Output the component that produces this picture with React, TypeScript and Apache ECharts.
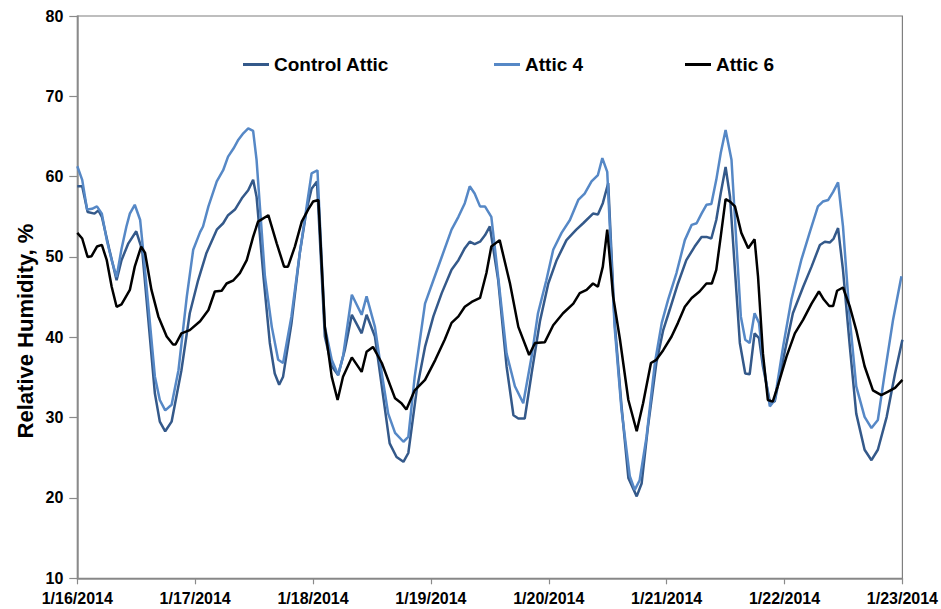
import React, { useEffect, useRef } from "react";
import * as echarts from "echarts";

// x = hours since 1/16/2014 00:00, y = relative humidity (%)
const dayLabels = ["1/16/2014", "1/17/2014", "1/18/2014", "1/19/2014", "1/20/2014", "1/21/2014", "1/22/2014", "1/23/2014"];
const seriesNames = ["Control Attic", "Attic 4", "Attic 6"];

const controlAttic: [number, number][] = [
  [0, 58.8], [1, 58.8], [2.1, 55.6], [3.5, 55.4], [4.3, 55.8], [5, 55.0], [6.5, 51.0], [8, 47.1], [9, 49.6], [10.4, 51.7],
  [12, 53.2], [13.2, 50.9], [15.8, 33.0], [16.8, 29.5], [17.9, 28.3], [19.2, 29.5], [21.2, 35.9], [22.9, 43.0], [24.6, 47.1],
  [26.3, 50.5], [28.4, 53.4], [29.7, 54.2], [30.7, 55.2], [32.1, 55.9], [33.5, 57.3], [34.8, 58.3], [35.8, 59.6], [36.5, 57.5],
  [37.9, 47.6], [39.2, 39.3], [40.2, 35.5], [41.1, 34.1], [41.9, 35.1], [43.6, 41.7], [45.3, 50.5], [46.7, 55.9], [47.7, 58.5],
  [48.8, 59.4], [50.4, 40.1], [51.8, 36.4], [53.1, 35.3], [54.5, 38.5], [55.9, 42.8], [57.9, 40.5], [58.9, 42.8], [60.6, 40.1],
  [62, 33.9], [63.6, 26.8], [65, 25.1], [66.4, 24.5], [67.4, 25.6], [69.1, 33.4], [70.8, 38.8], [72.5, 42.6], [74.2, 45.5],
  [76.2, 48.4], [77.6, 49.6], [78.9, 51.1], [79.9, 51.9], [80.9, 51.6], [82, 51.9], [83, 52.7], [84, 53.8], [85.7, 47.1],
  [87.4, 36.4], [88.8, 30.3], [89.8, 29.9], [91.1, 29.9], [92.5, 35.5], [94.2, 42.0], [95.9, 46.7], [97.6, 49.6], [99.6, 52.1],
  [101.6, 53.4], [103, 54.2], [105, 55.4], [106, 55.3], [107, 56.7], [108.1, 59.2], [109.4, 42.0], [110.8, 31.5], [112.2, 22.5],
  [113.9, 20.2], [114.9, 21.8], [116.2, 28.9], [117.9, 36.8], [119.3, 40.9], [120.6, 43.4], [122.3, 46.7], [124, 49.6],
  [125.7, 51.3], [127.1, 52.5], [128.1, 52.5], [129.1, 52.3], [130.1, 54.6], [131, 57.9], [132, 61.2], [132.9, 57.5],
  [133.9, 48.4], [134.9, 39.3], [136, 35.5], [136.9, 35.4], [137.9, 40.5], [138.8, 39.9], [139.6, 36.4], [141, 32.0], [142, 32.0],
  [143.7, 37.2], [145.7, 43.0], [147.8, 46.3], [149.5, 48.8], [151.2, 51.5], [152.2, 51.9], [153.2, 51.8], [154, 52.3],
  [154.9, 53.6], [155.9, 48.4], [157.3, 38.8], [158.6, 30.5], [160.3, 26.0], [161.7, 24.7], [163, 26.0], [164.8, 30.1],
  [166.5, 35.5], [168, 39.7],
];

const attic4: [number, number][] = [
  [0, 61.3], [1, 59.6], [2, 55.9], [3, 56.0], [4, 56.3], [5, 55.4], [6, 52.1], [7, 49.6], [8, 47.5], [9, 51.0], [10, 53.8],
  [10.7, 55.4], [11.7, 56.5], [12.8, 54.6], [13.4, 50.9], [15.8, 35.1], [16.8, 32.2], [17.9, 30.9], [19.2, 31.6], [20.6, 35.9],
  [22.3, 45.1], [23.6, 50.9], [25, 53.1], [25.6, 53.8], [26.7, 56.3], [28.4, 59.4], [29.7, 60.8], [30.7, 62.5], [31.8, 63.5],
  [32.8, 64.6], [33.8, 65.4], [34.8, 66.0], [35.8, 65.7], [36.5, 62.1], [38.2, 47.6], [39.6, 41.3], [40.9, 37.2], [41.9, 36.8],
  [43.6, 42.6], [45.3, 50.5], [46.7, 56.3], [47.7, 60.4], [48.9, 60.8], [50.4, 41.3], [51.8, 37.2], [53.1, 35.3], [54.1, 37.6],
  [55.9, 45.3], [57.9, 42.8], [58.9, 45.1], [60.6, 41.3], [62, 35.5], [63.3, 30.5], [64.7, 28.1], [66.4, 27.0], [67.4, 27.6],
  [68.7, 35.1], [70.8, 44.2], [72.5, 47.1], [74.2, 50.0], [76.2, 53.4], [77.6, 55.0], [78.9, 56.7], [79.9, 58.8], [80.9, 57.9],
  [82, 56.3], [83, 56.3], [84.3, 55.0], [85.7, 47.5], [87.4, 38.0], [89.1, 33.9], [90.8, 31.8], [92.5, 37.6], [93.8, 43.0],
  [95.5, 47.1], [96.9, 50.9], [98.6, 53.0], [100.3, 54.6], [102, 57.1], [103.3, 57.9], [104.7, 59.4], [106, 60.2], [106.9, 62.3],
  [107.9, 60.6], [109.4, 41.3], [110.8, 31.0], [112.5, 22.7], [113.5, 21.0], [114.5, 22.2], [115.9, 27.6], [117.6, 36.8],
  [119, 41.8], [120.3, 44.7], [122, 48.0], [123.7, 52.1], [125.1, 54.0], [126.1, 54.2], [127.1, 55.4], [128.1, 56.5],
  [129.1, 56.6], [130.1, 59.6], [131, 62.9], [132, 65.8], [133.2, 62.1], [134.2, 51.7], [135.1, 42.6], [136, 39.7],
  [136.9, 39.3], [137.9, 43.0], [138.8, 41.8], [139.6, 37.2], [141, 31.4], [142, 32.2], [143.7, 38.8], [145.4, 44.7],
  [147.4, 49.6], [149.1, 53.0], [150.8, 56.3], [151.8, 56.9], [152.9, 57.1], [153.9, 58.1], [154.9, 59.3], [155.9, 53.8],
  [157.3, 42.2], [158.6, 33.9], [160.3, 30.1], [161.7, 28.7], [163, 29.7], [164.3, 35.1], [166.1, 42.2], [167.8, 47.6],
];

const attic6: [number, number][] = [
  [0, 53.0], [1, 52.3], [2.1, 50.0], [2.9, 50.1], [4, 51.3], [5, 51.5], [6, 49.6], [7, 46.3], [8, 43.8], [9, 44.1], [10.7, 45.9],
  [11.7, 48.8], [13, 51.3], [13.8, 50.5], [15.1, 45.9], [16.5, 42.6], [18.2, 40.1], [19.5, 39.1], [20, 39.1], [21.2, 40.5],
  [22.9, 40.9], [25, 42.0], [26.7, 43.4], [28, 45.7], [29.4, 45.8], [30.4, 46.7], [31.8, 47.1], [33.1, 48.0], [34.5, 49.6],
  [35.8, 52.5], [36.8, 54.4], [38.9, 55.2], [40.6, 51.7], [42.1, 48.8], [42.9, 48.8], [44.3, 51.3], [45.7, 54.4], [47, 55.9],
  [48, 56.9], [49.1, 57.1], [50.4, 41.3], [51.8, 35.1], [53, 32.2], [54.1, 35.1], [55.9, 37.5], [57.9, 35.7], [58.9, 38.2],
  [60.2, 38.8], [62, 36.8], [64.7, 32.4], [66, 31.8], [67, 31.0], [68.7, 33.4], [70.8, 34.7], [72.9, 37.2], [74.8, 39.7],
  [76.2, 41.8], [77.6, 42.6], [78.9, 43.8], [80.3, 44.4], [82, 44.9], [83.3, 48.0], [84.3, 51.3], [86, 52.1], [88.1, 46.7],
  [89.8, 41.3], [92, 37.8], [93.2, 39.3], [95.2, 39.4], [96.9, 41.5], [98.9, 43.0], [101, 44.2], [102.3, 45.5], [103.7, 45.9],
  [105, 46.7], [106, 46.3], [107, 48.8], [107.9, 53.4], [109.1, 45.1], [110.5, 39.7], [112.2, 32.2], [113.9, 28.3], [115.2, 31.8],
  [116.8, 36.8], [117.9, 37.2], [119.3, 38.4], [121, 40.1], [122.3, 41.8], [123.7, 43.8], [125.1, 44.9], [126.7, 45.7],
  [128.1, 46.7], [129.2, 46.7], [130.1, 48.4], [131, 52.5], [132, 57.2], [132.9, 56.9], [133.9, 56.3], [135.2, 53.0],
  [136.6, 51.1], [137.9, 52.2], [138.6, 47.6], [139.6, 38.0], [140.6, 32.2], [141.6, 32.0], [142.6, 33.9], [144.4, 37.6],
  [146.1, 40.5], [147.8, 42.2], [149.5, 44.2], [151, 45.7], [152, 44.7], [153.1, 43.9], [153.9, 43.9], [154.7, 45.8],
  [155.9, 46.2], [157.3, 43.8], [158.6, 40.9], [160.3, 36.4], [162, 33.4], [163.7, 32.8], [165, 33.2], [166.5, 33.7], [168, 34.7],
];

const seriesColors = ["#34598A", "#5688C6", "#000000"];
const FONT = "'Liberation Sans', Arial, sans-serif";

export default function App() {
  const ref = useRef<HTMLDivElement>(null);
  useEffect(() => {
    if (!ref.current) return;
    const chart = echarts.init(ref.current, undefined, { renderer: "svg" });
    const legendBase = {
      top: 50,
      icon: "rect",
      itemWidth: 26,
      itemHeight: 3,
      textStyle: { fontFamily: FONT, fontWeight: "bold", fontSize: 19, color: "#000" },
    };
    const dataSets = [controlAttic, attic4, attic6];
    chart.setOption({
      animation: false,
      backgroundColor: "#fff",
      grid: {
        left: 77.3,
        right: 38.3,
        top: 16,
        bottom: 30.7,
        show: true,
        borderColor: "#7f7f7f",
        borderWidth: 1.2,
      },
      legend: [
        { ...legendBase, left: 238, data: [seriesNames[0]] },
        { ...legendBase, left: 489, data: [seriesNames[1]] },
        { ...legendBase, left: 680, data: [seriesNames[2]] },
      ],
      xAxis: {
        type: "value",
        min: 0,
        max: 168,
        interval: 24,
        splitLine: { show: false },
        axisLine: { show: true, lineStyle: { color: "#8a8a8a", width: 1.5 } },
        axisTick: { show: true, length: 6, lineStyle: { color: "#8a8a8a", width: 1.2 } },
        axisLabel: {
          margin: 12,
          fontFamily: FONT,
          fontWeight: "bold",
          fontSize: 16,
          color: "#000",
          formatter: (v: number) => dayLabels[Math.round(v / 24)] ?? "",
        },
      },
      yAxis: {
        type: "value",
        min: 10,
        max: 80,
        interval: 10,
        splitLine: { show: false },
        axisLine: { show: true, lineStyle: { color: "#8a8a8a", width: 1.5 } },
        axisTick: { show: true, length: 8, lineStyle: { color: "#8a8a8a", width: 1.2 } },
        axisLabel: { margin: 14, fontFamily: FONT, fontWeight: "bold", fontSize: 16, color: "#000" },
      },
      graphic: [
        {
          type: "text",
          x: 25,
          y: 331,
          rotation: Math.PI / 2,
          style: {
            text: "Relative Humidity, %",
            fontFamily: FONT,
            fontWeight: "bold",
            fontSize: 22,
            fill: "#000",
            align: "center",
            verticalAlign: "middle",
          },
        },
      ],
      series: seriesNames.map((name, i) => ({
        name,
        type: "line",
        data: dataSets[i],
        showSymbol: false,
        symbol: "none",
        lineStyle: { color: seriesColors[i], width: 2.5 },
        itemStyle: { color: seriesColors[i] },
        z: 2 + i,
      })),
    });
    return () => chart.dispose();
  }, []);
  return <div ref={ref} style={{ position: "fixed", left: 0, top: 0, width: 941, height: 609, background: "#fff" }} />;
}
